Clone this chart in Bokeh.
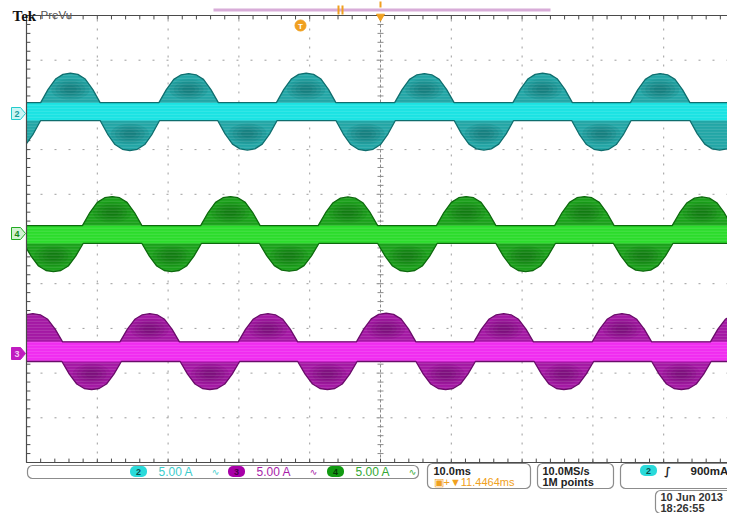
import numpy as np
from bokeh.plotting import figure
from bokeh.models import Range1d
from bokeh.core.properties import value
from bokeh.embed import file_html
from bokeh.resources import INLINE

ms_per_div = 10.0
amps_per_div = 5.0
record_end_ms = 100.2

# shape of one half-wave lobe (fraction of lobe height at steps of its half-width)
lobe_half_ms = 4.2
lobe_steps = [-1.0, -0.75, -0.5, -0.25, 0.0, 0.25, 0.5, 0.75, 1.0]
lobe_shape = [0.0, 0.45, 0.80, 0.96, 1.0, 0.96, 0.80, 0.45, 0.0]

# channel 2 (cyan)
ch2_offset_div = 2.85
ch2_band_A = 1.0
ch2_pos_t = [6.2, 22.9, 39.5, 56.2, 72.9, 89.5]
ch2_pos_A = [4.30, 4.25, 4.30, 4.25, 4.30, 4.25]
ch2_neg_t = [-2.2, 14.6, 31.2, 47.9, 64.6, 81.2, 97.9]
ch2_neg_A = [-4.35, -4.35, -4.30, -4.35, -4.30, -4.35, -4.30]

# channel 4 (green)
ch4_offset_div = 0.10
ch4_band_A = 1.0
ch4_pos_t = [12.1, 28.8, 45.4, 62.1, 78.8, 95.4]
ch4_pos_A = [4.25, 4.25, 4.20, 4.25, 4.25, 4.20]
ch4_neg_t = [3.8, 20.5, 37.1, 53.8, 70.5, 87.1]
ch4_neg_A = [-4.15, -4.15, -4.10, -4.15, -4.15, -4.10]

# channel 3 (magenta)
ch3_offset_div = -2.52
ch3_band_A = 1.1
ch3_pos_t = [0.9, 17.4, 34.1, 50.8, 67.4, 84.1, 100.8]
ch3_pos_A = [4.25, 4.25, 4.25, 4.30, 4.25, 4.25, 4.25]
ch3_neg_t = [9.2, 25.9, 42.5, 59.2, 75.9, 92.5]
ch3_neg_A = [-4.25, -4.25, -4.25, -4.25, -4.25, -4.25]

channel_ids = ["2", "3", "4"]
scale_labels = ["5.00 A", "5.00 A", "5.00 A"]
timebase_label = "10.0ms"
position_label = "\u25a3+\u25bc11.4464ms"
rate_label = "10.0MS/s"
points_label = "1M points"
trigger_channel = "2"
trigger_level = "900mA"
date_label = "10 Jun 2013"
clock_label = "18:26:55"

# ---------------- screen geometry ----------------
W, H = 727, 513
PX_L, PX_R, PX_T, PX_B = 26.0, 734.0, 15.0, 462.0
px_per_ms = (PX_R - PX_L) / 100.0
px_per_div = (PX_B - PX_T) / 10.0


def ms_at(X):
    return (X - PX_L) / px_per_ms


def div_at(Y):
    return 5.0 - (Y - PX_T) / px_per_div


p = figure(width=W, height=H,
           x_range=Range1d(ms_at(0), ms_at(W)),
           y_range=Range1d(div_at(H), div_at(0)),
           output_backend="svg", toolbar_location=None,
           x_axis_location=None, y_axis_location=None,
           min_border=0, background_fill_color="white", border_fill_color="white")
p.outline_line_color = None
p.grid.visible = False
p.extra_x_ranges = {"px": Range1d(0, W)}
p.extra_y_ranges = {"px": Range1d(H, 0)}
PX = dict(x_range_name="px", y_range_name="px")

GRID = "#9c9c9c"
FRAME = "#4a4a4a"

# ---------------- graticule ----------------
vx = [10, 20, 30, 40, 60, 70, 80, 90]
p.segment(x0=vx, y0=[-5] * len(vx), x1=vx, y1=[5] * len(vx),
          line_color=GRID, line_width=1, line_dash="2 7")
hy = [-4, -3, -2, -1, 1, 2, 3, 4]
p.segment(x0=[0] * len(hy), y0=hy, x1=[100] * len(hy), y1=hy,
          line_color=GRID, line_width=1, line_dash="2 12")
# center cross
p.segment(x0=[50], y0=[-5], x1=[50], y1=[5], line_color="#8a8a8a", line_width=1, line_dash="3 2")
p.segment(x0=[0], y0=[0], x1=[100], y1=[0], line_color="#8a8a8a", line_width=1, line_dash="3 2")
tick_y = np.arange(-5, 5.001, 0.2)
tick_x = np.arange(0, 100.001, 2.0)
tl_ms = 3.0 / px_per_ms
tl_div = 3.0 / px_per_div
p.segment(x0=[50 - tl_ms] * len(tick_y), y0=tick_y, x1=[50 + tl_ms] * len(tick_y), y1=tick_y,
          line_color="#8a8a8a", line_width=1)
p.segment(x0=tick_x, y0=[-tl_div] * len(tick_x), x1=tick_x, y1=[tl_div] * len(tick_x),
          line_color="#8a8a8a", line_width=1)
# frame ticks
p.segment(x0=[0] * len(tick_y), y0=tick_y, x1=[1.3 * tl_ms] * len(tick_y), y1=tick_y,
          line_color=FRAME, line_width=1)
p.segment(x0=tick_x, y0=[5] * len(tick_x), x1=tick_x, y1=[5 - 1.3 * tl_div] * len(tick_x),
          line_color=FRAME, line_width=1)
p.segment(x0=tick_x, y0=[-5] * len(tick_x), x1=tick_x, y1=[-5 + 1.3 * tl_div] * len(tick_x),
          line_color=FRAME, line_width=1)


# ---------------- traces ----------------
def edge_points(centres, peaks, band):
    t = [-20.0]
    a = [band]
    for tc, pk in zip(centres, peaks):
        for s, f in zip(lobe_steps, lobe_shape):
            t.append(tc + s * lobe_half_ms)
            a.append(band + f * (pk - band))
    t.append(120.0)
    a.append(band)
    t = np.array(t)
    a = np.array(a)
    order = np.argsort(t, kind="stable")
    t, a = t[order], a[order]
    keep = (t > 0) & (t < record_end_ms)
    tt = np.concatenate([[0.0], t[keep], [record_end_ms]])
    aa = np.concatenate([[np.interp(0.0, t, a)], a[keep], [np.interp(record_end_ms, t, a)]])
    return tt, aa


def draw_channel(off, band, pos_t, pos_A, neg_t, neg_A, c):
    ut, ua = edge_points(pos_t, pos_A, band)
    lt, la = edge_points(neg_t, neg_A, -band)
    uy = off + ua / amps_per_div
    ly = off + la / amps_per_div
    xs = np.concatenate([ut, lt[::-1]])
    ys = np.concatenate([uy, ly[::-1]])
    p.patch(xs, ys, fill_color=c["lobe"], line_color=None)
    # darker, diffuse cores of the lobes
    cx, cy = [], []
    for tcs, pks, b in ((pos_t, pos_A, band), (neg_t, neg_A, -band)):
        for tc, pk in zip(tcs, pks):
            if 2.5 <= tc <= 97.5:
                cx.append(tc)
                cy.append(off + (b + 0.45 * (pk - b)) / amps_per_div)
    for wd, ht in ((5.4, 0.46), (4.2, 0.36), (3.0, 0.26), (1.8, 0.16)):
        p.ellipse(x=cx, y=cy, width=wd, height=ht, fill_color=c["dark"], fill_alpha=0.13,
                  line_color=None)
    # bright band of switching ripple
    p.quad(left=[0], right=[record_end_ms], bottom=[off - band / amps_per_div],
           top=[off + band / amps_per_div], fill_color=c["band"], line_color=None)
    # raster stripes (white, invisible on the background)
    sy = np.arange(off - 1.0, off + 1.0, 3.0 / px_per_div)
    p.multi_line(xs=[[0, record_end_ms]] * len(sy), ys=[[v, v] for v in sy],
                 line_color="white", line_alpha=0.14, line_width=1)
    p.line(ut, uy, line_color=c["edge"], line_width=1.3)
    p.line(lt, ly, line_color=c["edge"], line_width=1.3)


CYAN = dict(lobe="#22a6a6", dark="#064e4e", band="#1ae3e3", edge="#0f6e6e")
GREEN = dict(lobe="#1aa01a", dark="#064e06", band="#2bdc2b", edge="#0d6a0d")
MAGENTA = dict(lobe="#a418a4", dark="#4e044e", band="#f02cf0", edge="#6a0c6a")

draw_channel(ch2_offset_div, ch2_band_A, ch2_pos_t, ch2_pos_A, ch2_neg_t, ch2_neg_A, CYAN)
draw_channel(ch4_offset_div, ch4_band_A, ch4_pos_t, ch4_pos_A, ch4_neg_t, ch4_neg_A, GREEN)
draw_channel(ch3_offset_div, ch3_band_A, ch3_pos_t, ch3_pos_A, ch3_neg_t, ch3_neg_A, MAGENTA)

# frame lines
p.segment(x0=[0], y0=[-5], x1=[0], y1=[5], line_color=FRAME, line_width=1.2)
p.segment(x0=[0, 0], y0=[5, -5], x1=[101, 101], y1=[5, -5], line_color=FRAME, line_width=1.2)

# ---------------- screen furniture (pixel coordinates) ----------------
FONT = value("Liberation Sans")
ORANGE = "#f0a020"

p.text(x=[12], y=[15], text=["Tek"], text_font=value("Liberation Serif"), text_font_style="bold",
       text_font_size="15px", text_color="#111111", text_baseline="alphabetic", **PX)
p.text(x=[40], y=[14.5], text=["PreVu"], text_font=FONT, text_font_size="11.5px",
       text_color="#555555", text_baseline="alphabetic", **PX)

# record bar and markers
p.segment(x0=[213], y0=[9.5], x1=[550], y1=[9.5], line_color="#d8acd8", line_width=3, **PX)
p.segment(x0=[338, 342], y0=[5, 5], x1=[338, 342], y1=[14, 14], line_color=ORANGE, line_width=2, **PX)
p.segment(x0=[380], y0=[1], x1=[380], y1=[7], line_color=ORANGE, line_width=2, **PX)
p.scatter(x=[380], y=[16], marker="inverted_triangle", size=8, fill_color=ORANGE, line_color=ORANGE, **PX)
p.scatter(x=[300], y=[25], marker="circle", size=11, fill_color=ORANGE, line_color=ORANGE, **PX)
p.text(x=[300], y=[25.5], text=["T"], text_font=FONT, text_font_style="bold", text_font_size="8px",
       text_color="white", text_align="center", text_baseline="middle", **PX)

# channel ground markers on the left
markers = [("2", 113, "#c9f5f5", "#22cccc", "#1a9a9a"),
           ("4", 233, "#d2f2d2", "#22aa22", "#148814"),
           ("3", 353, "#c01cc0", "#c01cc0", "#f4c8f4")]
for lab, ym, fc, lc, tc in markers:
    p.patch(x=[11, 20, 25, 20, 11], y=[ym - 6, ym - 6, ym, ym + 6, ym + 6], fill_color=fc,
            line_color=lc, line_width=1, **PX)
    p.text(x=[16.5], y=[ym + 0.5], text=[lab], text_font=FONT, text_font_style="bold",
           text_font_size="9px", text_color=tc, text_align="center", text_baseline="middle", **PX)

# status boxes
p.quad(left=[27], right=[418], top=[465], bottom=[478], fill_color="white", line_color="#8c8c8c",
       line_width=1.2, border_radius=5, **PX)
p.quad(left=[427, 537, 620, 655], right=[530, 613, 745, 735], top=[463, 463, 463, 490],
       bottom=[488, 488, 488, 513], fill_color="white", line_color="#8c8c8c", line_width=1.2,
       border_radius=5, **PX)

pill_x = [138, 236, 335]
pill_fill = ["#2adada", "#a800a8", "#129a12"]
pill_text = ["#0d4d4d", "#4a004a", "#063806"]
label_col = ["#3ccccc", "#a81ca8", "#33a833"]
for i in range(3):
    p.rect(x=[pill_x[i]], y=[471], width=17, height=11, fill_color=pill_fill[i], line_color=None,
           border_radius=5, **PX)
    p.text(x=[pill_x[i]], y=[471.5], text=[channel_ids[i]], text_font=FONT, text_font_style="bold",
           text_font_size="9px", text_color=pill_text[i], text_align="center", text_baseline="middle", **PX)
    p.text(x=[pill_x[i] + 20], y=[471.5], text=[scale_labels[i]], text_font=FONT,
           text_font_size="12px", text_color=label_col[i], text_baseline="middle", **PX)
    p.text(x=[pill_x[i] + 77], y=[471], text=["\u223f"], text_font=value("DejaVu Sans"),
           text_font_size="9px", text_color=label_col[i], text_align="center", text_baseline="middle", **PX)

p.text(x=[433], y=[470], text=[timebase_label], text_font=FONT, text_font_style="bold",
       text_font_size="11px", text_color="#222222", text_baseline="middle", **PX)
p.text(x=[433], y=[481.5], text=[position_label], text_font=FONT,
       text_font_size="11px", text_color=ORANGE, text_baseline="middle", **PX)
p.text(x=[542], y=[470], text=[rate_label], text_font=FONT, text_font_style="bold",
       text_font_size="11px", text_color="#222222", text_baseline="middle", **PX)
p.text(x=[542], y=[481.5], text=[points_label], text_font=FONT, text_font_style="bold",
       text_font_size="11px", text_color="#222222", text_baseline="middle", **PX)
p.rect(x=[648], y=[470], width=17, height=11, fill_color="#2adada", line_color=None,
       border_radius=5, **PX)
p.text(x=[648], y=[470.5], text=[trigger_channel], text_font=FONT, text_font_style="bold",
       text_font_size="9px", text_color="#0d4d4d", text_align="center", text_baseline="middle", **PX)
p.text(x=[667], y=[470.5], text=["\u222b"], text_font=value("DejaVu Sans"), text_font_style="bold",
       text_font_size="11px", text_color="#222222", text_align="center", text_baseline="middle", **PX)
p.text(x=[690], y=[470.5], text=[trigger_level], text_font=FONT, text_font_style="bold",
       text_font_size="11.5px", text_color="#222222", text_baseline="middle", **PX)

p.text(x=[660], y=[496], text=[date_label], text_font=FONT, text_font_style="bold",
       text_font_size="11px", text_color="#333333", text_baseline="middle", **PX)
p.text(x=[660], y=[507], text=[clock_label], text_font=FONT, text_font_style="bold",
       text_font_size="11px", text_color="#333333", text_baseline="middle", **PX)

open("out.html", "w").write(file_html(p, INLINE))
